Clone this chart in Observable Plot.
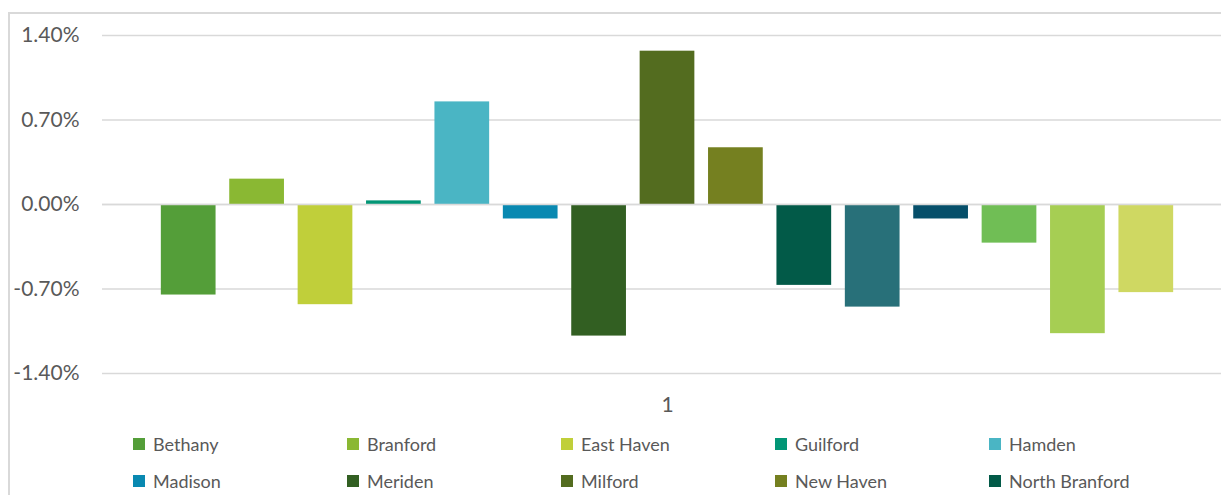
<!DOCTYPE html>
<html>
<head>
<meta charset="utf-8">
<script src="https://cdn.jsdelivr.net/npm/d3@7"></script>
<script src="https://cdn.jsdelivr.net/npm/@observablehq/plot@0.6"></script>
<style>
  html, body { margin: 0; padding: 0; background: #fff; overflow: hidden; width: 1221px; height: 495px; }
  #frame { position: absolute; left: 8px; top: 12px; width: 1260px; height: 600px;
           border: 2px solid #d9d9d9; box-sizing: border-box; }
  #chart { position: absolute; left: 0; top: 0; }
  #legend { position: absolute; left: 123px; top: 411px; width: 1100px; display: flex; flex-wrap: wrap;
            font-family: Lato, "Open Sans", sans-serif; font-size: 18px; color: #595959; }
  .item { width: 214px; height: 37px; display: flex; align-items: center; white-space: nowrap; }
  .sw { width: 12px; height: 12px; margin-right: 8px; flex: none; }
</style>
</head>
<body>
<div id="frame">
  <div id="chart"></div>
  <div id="legend"></div>
</div>
<script>
const towns = ["Bethany","Branford","East Haven","Guilford","Hamden","Madison","Meriden","Milford","New Haven","North Branford","North Haven","Orange","Wallingford","West Haven","Woodbridge"];
const values = [-0.0075, 0.0021, -0.0083, 0.0003, 0.0085, -0.0012, -0.0109, 0.0127, 0.0047, -0.0067, -0.0085, -0.0012, -0.0032, -0.0107, -0.0073];
const colors = ["#549e39","#8ab833","#c0cf3a","#029676","#4ab5c4","#0989b1","#325f22","#536c1f","#758020","#025a48","#287079","#064f6a","#70be55","#a6ce53","#cfd862"];
const categoryLabel = ["1"];
const yTicks = [-0.014, -0.007, 0, 0.007, 0.014];

const data = towns.map((t, i) => ({town: t, value: values[i], group: categoryLabel[0]}));
const fmt = d => (d * 100).toFixed(2) + "%";

const chart = Plot.plot({
  width: 1222,
  height: 410,
  marginLeft: 92,
  marginRight: 0,
  marginTop: 21,
  marginBottom: 51,
  style: {fontFamily: "Lato, 'Open Sans', sans-serif", fontSize: "21px", color: "#595959", background: "transparent"},
  fx: {domain: categoryLabel, padding: 0, axis: "bottom", tickSize: 0, tickPadding: 24, label: null},
  x: {domain: towns, paddingInner: 0.2, paddingOuter: 0.1, insetLeft: 52, insetRight: 52, round: false, axis: null},
  y: {domain: [-0.014, 0.014], axis: null},
  color: {domain: towns, range: colors},
  marks: [
    Plot.ruleY(yTicks, {stroke: "#d9d9d9", strokeWidth: 1.5}),
    Plot.barY(data, {fx: "group", x: "town", y: "value", fill: "town"}),
    Plot.ruleY([0], {stroke: "#d9d9d9", strokeWidth: 1.5}),
    Plot.axisY({ticks: yTicks, tickFormat: fmt, tickSize: 0, tickPadding: 23, label: null})
  ]
});
document.getElementById("chart").appendChild(chart);

const legend = d3.select("#legend");
const items = legend.selectAll(".item").data(towns).join("div").attr("class", "item");
items.append("div").attr("class", "sw").style("background", (d, i) => colors[i]);
items.append("span").text(d => d);
</script>
</body>
</html>
